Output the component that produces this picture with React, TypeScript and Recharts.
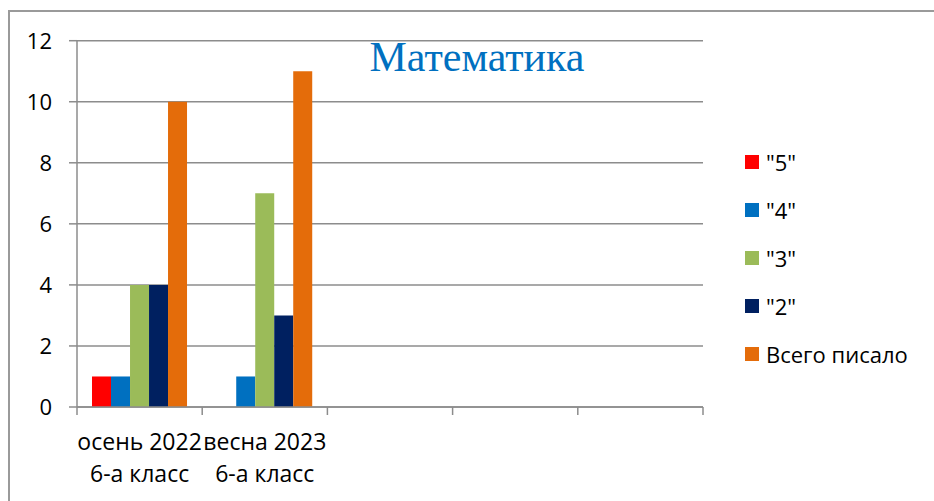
import React from "react";
import { BarChart, Bar, XAxis, YAxis, CartesianGrid, Legend } from "recharts";

const labelLine1 = ["осень 2022", "весна 2023", "", "", ""];
const labelLine2 = ["6-а класс", "6-а класс", "", "", ""];
const grade5 = [1, 0, null, null, null];
const grade4 = [1, 1, null, null, null];
const grade3 = [4, 7, null, null, null];
const grade2 = [4, 3, null, null, null];
const totalWrote = [10, 11, null, null, null];
const yTicks = [0, 2, 4, 6, 8, 10, 12];

const seriesNames = ['"5"', '"4"', '"3"', '"2"', "Всего писало"];
const seriesKeys = ["g5", "g4", "g3", "g2", "total"];
const seriesColors = ["#FF0000", "#0070C0", "#9BBB59", "#002060", "#E46C0A"];

const data = labelLine1.map((l, i) => ({
  label: l,
  g5: grade5[i],
  g4: grade4[i],
  g3: grade3[i],
  g2: grade2[i],
  total: totalWrote[i],
}));

const FONT = "'Open Sans', 'Noto Sans', sans-serif";
const GRID = "#8c8c8c";

const XTick = (props: any) => {
  const { x, y, index, width, visibleTicksCount } = props;
  const band = (width || 626) / (visibleTicksCount || labelLine1.length);
  const left = x - band / 2;
  const right = x + band / 2;
  return (
    <g>
      <line x1={left} x2={left} y1={y} y2={y + 8} stroke={GRID} strokeWidth={1.5} />
      {index === labelLine1.length - 1 && (
        <line x1={right} x2={right} y1={y} y2={y + 8} stroke={GRID} strokeWidth={1.5} />
      )}
      <text x={x} y={y + 43} textAnchor="middle" fontFamily={FONT} fontSize={23} fill="#000">
        {labelLine1[index]}
      </text>
      <text x={x} y={y + 75} textAnchor="middle" fontFamily={FONT} fontSize={23} fill="#000">
        {labelLine2[index]}
      </text>
    </g>
  );
};

const LegendContent = () => (
  <div style={{ fontFamily: FONT, fontSize: 22, color: "#000" }}>
    {seriesNames.map((n, i) => (
      <div key={n} style={{ height: 48, display: "flex", alignItems: "center" }}>
        <div style={{ width: 14, height: 14, background: seriesColors[i], marginRight: 7 }} />
        <span style={{ lineHeight: "24px" }}>{n}</span>
      </div>
    ))}
  </div>
);

export default function App() {
  return (
    <div style={{ position: "absolute", left: 0, top: 0, width: 934, height: 501, overflow: "hidden", background: "#fff" }}>
      <div
        style={{
          position: "absolute",
          left: 8,
          top: 10,
          width: 940,
          height: 500,
          borderLeft: "2px solid #9a9a9a",
          borderTop: "2px solid #9a9a9a",
        }}
      />
      <div
        style={{
          position: "absolute",
          left: 277,
          width: 400,
          top: 36,
          textAlign: "center",
          fontFamily: "'Liberation Serif', 'Times New Roman', serif",
          fontSize: 42,
          lineHeight: "42px",
          color: "#0070C0",
          zIndex: 2,
        }}
      >
        Математика
      </div>
      <div style={{ position: "absolute", left: 0, top: 0 }}>
        <BarChart
          width={934}
          height={500}
          data={data}
          margin={{ top: 40.7, right: 231, bottom: 0, left: 0 }}
          barCategoryGap="12%"
          barGap={0}
        >
          <CartesianGrid vertical={false} stroke={GRID} strokeWidth={1.5} />
          <XAxis
            dataKey="label"
            height={93}
            axisLine={{ stroke: GRID, strokeWidth: 1.5 }}
            tickLine={false}
            tickSize={0}
            tickMargin={0}
            interval={0}
            tick={<XTick />}
          />
          <YAxis
            width={77}
            domain={[0, 12]}
            ticks={yTicks}
            interval={0}
            axisLine={{ stroke: GRID, strokeWidth: 1.5 }}
            tickLine={{ stroke: GRID, strokeWidth: 1.5 }}
            tickSize={8}
            tickMargin={17}
            tick={{ fontFamily: FONT, fontSize: 22, fill: "#000" }}
          />
          <Legend
            layout="horizontal"
            verticalAlign="middle"
            align="center"
            wrapperStyle={{ left: 745, top: 138, width: 180 }}
            content={<LegendContent />}
          />
          {seriesKeys.map((k, i) => (
            <Bar key={k} dataKey={k} name={seriesNames[i]} fill={seriesColors[i]} isAnimationActive={false} />
          ))}
        </BarChart>
      </div>
    </div>
  );
}
